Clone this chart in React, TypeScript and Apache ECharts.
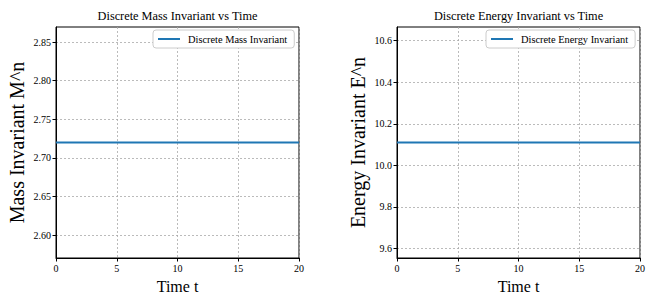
import React, { useEffect, useRef } from "react";
import * as echarts from "echarts";

const times = [0, 2, 4, 6, 8, 10, 12, 14, 16, 18, 20];
const massValues = [2.72, 2.72, 2.72, 2.72, 2.72, 2.72, 2.72, 2.72, 2.72, 2.72, 2.72];
const energyValues = [10.11, 10.11, 10.11, 10.11, 10.11, 10.11, 10.11, 10.11, 10.11, 10.11, 10.11];
const massTicks = [2.6, 2.65, 2.7, 2.75, 2.8, 2.85];
const energyTicks = [9.6, 9.8, 10.0, 10.2, 10.4, 10.6];
const massRange = [2.5704, 2.8696];
const energyRange = [9.554, 10.666];

const FONT = "Liberation Serif";

export default function App() {
  const ref = useRef<HTMLDivElement>(null);
  useEffect(() => {
    if (!ref.current) return;
    const chart = echarts.init(ref.current, null, { renderer: "svg" });
    const grids = [
      { left: 56, top: 27, width: 243, height: 232 },
      { left: 397, top: 27, width: 243, height: 232 },
    ];
    const mkX = (i: number) => ({
      type: "value",
      gridIndex: i,
      min: 0,
      max: 20,
      interval: 5,
      name: "Time t",
      nameLocation: "middle",
      nameGap: 20,
      nameTextStyle: { fontFamily: FONT, fontSize: 16, color: "#000" },
      axisLine: { show: true, lineStyle: { color: "#000", width: 1 } },
      axisTick: { show: true, length: 3.5, lineStyle: { color: "#000" } },
      axisLabel: { fontFamily: FONT, fontSize: 10, color: "#000", margin: 5, showMinLabel: true, showMaxLabel: true },
      splitLine: { show: true, lineStyle: { color: "#aaa", type: [2, 2], width: 0.8 } },
    });
    const mkY = (i: number, name: string, range: number[], ticks: number[], dec: number) => ({
      type: "value",
      gridIndex: i,
      min: range[0],
      max: range[1],
      name,
      nameLocation: "middle",
      nameGap: 29,
      nameTextStyle: { fontFamily: FONT, fontSize: 20, color: "#000" },
      axisLine: { show: true, lineStyle: { color: "#000", width: 1 } },
      axisTick: { show: true, length: 3.5, lineStyle: { color: "#000" }, customValues: ticks },
      axisLabel: {
        fontFamily: FONT,
        fontSize: 10,
        color: "#000",
        margin: 5,
        customValues: ticks,
        formatter: (v: number) => v.toFixed(dec),
      },
      splitLine: { show: true, lineStyle: { color: "#aaa", type: [2, 2], width: 0.8 } },
    });
    const legendBase = {
      orient: "vertical",
      icon: "rect",
      itemWidth: 22,
      itemHeight: 2,
      itemGap: 4,
      padding: [4, 7, 4, 5],
      backgroundColor: "#fff",
      borderColor: "#ccc",
      borderWidth: 1,
      borderRadius: 3,
      textStyle: { fontFamily: FONT, fontSize: 10.4, color: "#000", padding: [0, 0, 0, 3] },
    };
    chart.setOption({
      animation: false,
      backgroundColor: "#fff",
      title: [
        {
          text: "Discrete Mass Invariant vs Time",
          left: 177.5,
          top: 10,
          textAlign: "center",
          padding: 0,
          textStyle: { fontFamily: FONT, fontSize: 12.3, fontWeight: "normal", color: "#000" },
        },
        {
          text: "Discrete Energy Invariant vs Time",
          left: 518.5,
          top: 10,
          textAlign: "center",
          padding: 0,
          textStyle: { fontFamily: FONT, fontSize: 12.3, fontWeight: "normal", color: "#000" },
        },
      ],
      legend: [
        { ...legendBase, data: ["Discrete Mass Invariant"], left: 153, top: 30 },
        { ...legendBase, data: ["Discrete Energy Invariant"], left: 486, top: 30 },
      ],
      grid: grids.map((g) => ({ ...g, show: true, borderColor: "#000", borderWidth: 1, backgroundColor: "transparent" })),
      xAxis: [mkX(0), mkX(1)],
      yAxis: [
        mkY(0, "Mass Invariant M^n", massRange, massTicks, 2),
        mkY(1, "Energy Invariant E^n", energyRange, energyTicks, 1),
      ],
      series: [
        {
          name: "Discrete Mass Invariant",
          type: "line",
          xAxisIndex: 0,
          yAxisIndex: 0,
          data: times.map((t, i) => [t, massValues[i]]),
          showSymbol: false,
          lineStyle: { color: "#1f77b4", width: 2 },
          itemStyle: { color: "#1f77b4" },
        },
        {
          name: "Discrete Energy Invariant",
          type: "line",
          xAxisIndex: 1,
          yAxisIndex: 1,
          data: times.map((t, i) => [t, energyValues[i]]),
          showSymbol: false,
          lineStyle: { color: "#1f77b4", width: 2 },
          itemStyle: { color: "#1f77b4" },
        },
      ],
    });
    return () => chart.dispose();
  }, []);
  return <div ref={ref} style={{ width: 659, height: 299, position: "absolute", left: 0, top: 0 }} />;
}
